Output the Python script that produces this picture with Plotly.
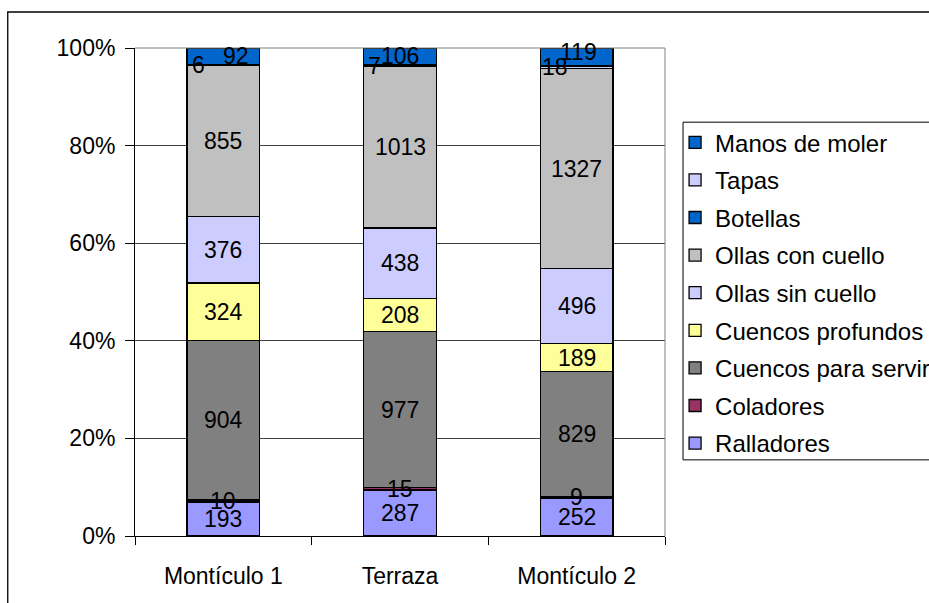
import plotly.graph_objects as go

# Sitios (categorías del eje X)
sitios = ["Montículo 1", "Terraza", "Montículo 2"]

# Conteos por tipo de artefacto (de abajo hacia arriba en la pila)
ralladores = [193, 287, 252]
coladores = [10, 15, 9]
cuencos_servir = [904, 977, 829]
cuencos_profundos = [324, 208, 189]
ollas_sin_cuello = [376, 438, 496]
ollas_con_cuello = [855, 1013, 1327]
botellas = [0, 0, 0]
tapas = [6, 7, 18]
manos_moler = [92, 106, 119]

y_ticks = [0, 20, 40, 60, 80, 100]
y_tick_labels = ["0%", "20%", "40%", "60%", "80%", "100%"]

series = [
    ("Ralladores", ralladores, "#9999FF"),
    ("Coladores", coladores, "#993366"),
    ("Cuencos para servir", cuencos_servir, "#808080"),
    ("Cuencos profundos", cuencos_profundos, "#FFFF99"),
    ("Ollas sin cuello", ollas_sin_cuello, "#CCCCFF"),
    ("Ollas con cuello", ollas_con_cuello, "#C0C0C0"),
    ("Botellas", botellas, "#0066CC"),
    ("Tapas", tapas, "#CCCCFF"),
    ("Manos de moler", manos_moler, "#0066CC"),
]

FONT = "Liberation Sans, Arial, sans-serif"
FS = 23
FS_LEG = 24

fig = go.Figure()
n = len(series)
for i, (name, vals, color) in enumerate(series):
    fig.add_trace(go.Bar(
        x=sitios, y=vals, name=name, legendgroup=name,
        legendrank=n - i,
        marker=dict(color=color, line=dict(color="black", width=1.3)),
        hoverinfo="name+y",
    ))

# Etiquetas de valor centradas en cada segmento (en porcentaje del total)
totales = [sum(s[1][k] for s in series) for k in range(len(sitios))]
# desplazamientos de etiquetas para segmentos muy finos (en px)
ajustes = {
    ("Tapas", 0): (-25, 0), ("Tapas", 1): (-26, 0), ("Tapas", 2): (-22, 0),
    ("Manos de moler", 0): (13, 0), ("Manos de moler", 2): (2, 5),
}
for k, sitio in enumerate(sitios):
    base = 0.0
    for name, vals, color in series:
        v = vals[k]
        pct = 100.0 * v / totales[k]
        if v > 0:
            dx, dy = ajustes.get((name, k), (0, 0))
            fig.add_annotation(
                x=sitio, y=base + pct / 2, text=str(v), showarrow=False,
                xshift=dx, yshift=dy,
                font=dict(family=FONT, size=FS, color="black"),
            )
        base += pct

fig.update_layout(
    barmode="stack",
    barnorm="percent",
    bargap=0.59,
    width=929, height=603,
    margin=dict(l=135, r=264, t=48, b=67, autoexpand=False),
    paper_bgcolor="white",
    plot_bgcolor="white",
    font=dict(family=FONT, size=FS, color="black"),
    showlegend=True,
    legend=dict(
        x=1.019, y=0.852, xanchor="left", yanchor="top",
        traceorder="grouped", tracegroupgap=3.4,
        borderwidth=0, bgcolor="rgba(0,0,0,0)",
        font=dict(family=FONT, size=FS_LEG, color="black"),
        itemclick=False, itemdoubleclick=False,
    ),
    xaxis=dict(
        showline=True, linecolor="black", linewidth=1,
        ticks="outside", ticklen=8, tickcolor="black", tickson="boundaries",
        ticklabelstandoff=19,
        showgrid=False,
    ),
    yaxis=dict(
        range=[0, 100], tickvals=y_ticks, ticktext=y_tick_labels,
        showline=True, linecolor="black", linewidth=1,
        ticks="outside", ticklen=9, tickcolor="black",
        ticklabelstandoff=5,
        showgrid=True, gridcolor="#404040", gridwidth=1,
        zeroline=False,
    ),
    shapes=[
        # borde derecho y superior del área de trazado
        dict(type="line", xref="paper", yref="paper", x0=1, x1=1, y0=0, y1=1,
             line=dict(color="#808080", width=1)),
        dict(type="line", xref="paper", yref="paper", x0=0, x1=1, y0=1, y1=1,
             line=dict(color="#808080", width=1)),
        # marco de la leyenda
        dict(type="rect", xref="paper", yref="paper",
             x0=1.034, x1=2.0, y0=0.156, y1=0.848,
             line=dict(color="black", width=1), fillcolor="white",
             layer="below"),
        # marco exterior del gráfico
        dict(type="rect", xref="paper", yref="paper",
             x0=-0.2401, x1=2.0, y0=-1.0, y1=1.0738,
             line=dict(color="black", width=1.3), layer="below"),
    ],
)

fig.write_html("out.html")
